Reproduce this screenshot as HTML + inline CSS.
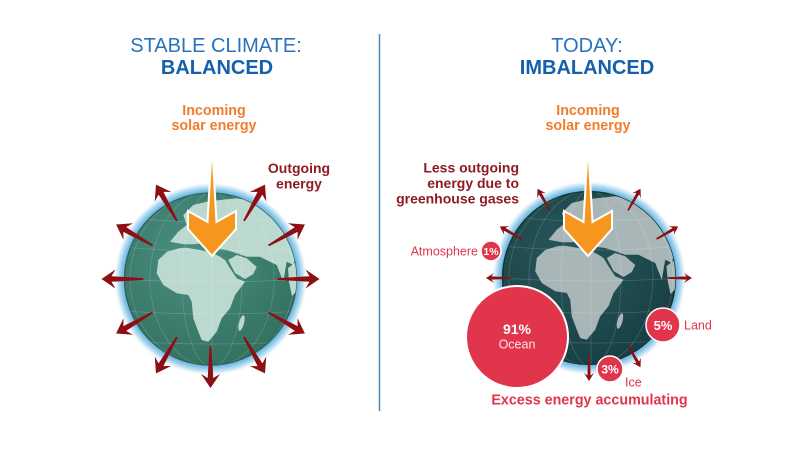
<!DOCTYPE html>
<html><head><meta charset="utf-8"><style>
html,body{margin:0;padding:0;background:#fff;}
svg{display:block;}
text{font-family:"Liberation Sans",Arial,sans-serif;}
</style></head><body>
<svg width="800" height="450" viewBox="0 0 800 450" xmlns="http://www.w3.org/2000/svg">
<defs>
<radialGradient id="glow" cx="0.5" cy="0.5" r="0.5">
<stop offset="0.88" stop-color="#5ea9d8"/>
<stop offset="0.915" stop-color="#86c5e8"/>
<stop offset="0.96" stop-color="#cfe8f6"/>
<stop offset="1" stop-color="#ffffff" stop-opacity="0"/>
</radialGradient>
<radialGradient id="oceanL" cx="0.4" cy="0.35" r="0.7">
<stop offset="0" stop-color="#4a8f81"/>
<stop offset="1" stop-color="#33705f"/>
</radialGradient>
<radialGradient id="oceanR" cx="0.4" cy="0.35" r="0.7">
<stop offset="0" stop-color="#28575b"/>
<stop offset="1" stop-color="#173f43"/>
</radialGradient>
<clipPath id="cL"><circle cx="210.5" cy="279" r="86"/></clipPath>
<clipPath id="cR"><circle cx="589" cy="278" r="86.5"/></clipPath>
<g id="land">
<path d="M180,248 L167,251.7 L158.3,260 L156.7,273.3 L163.3,285 L176.7,293.3 L188.3,295 L191.7,301.7 L193.3,318.3 L198.3,331.7 L201.7,340 L208.3,341.7 L216.7,331.7 L221.7,318.3 L230,308.3 L235,295 L245,281.7 L236.7,278.3 L230,268.3 L225,260 L220,256.7 L213.3,253.3 L200,250 L186.7,247.7 Z"/>
<ellipse cx="241.5" cy="323" rx="2.5" ry="8" transform="rotate(15 241.5 323)"/>
<path d="M228.3,260 L235,273 L245,279 L253.3,274 L256.7,267 L246.7,258.3 L236.7,255 Z"/>
<path d="M170,241.7 L178.3,231.7 L186.7,225 L183.3,215 L193.3,205 L206.7,201.7 L220,200 L236.7,198.3 L260,201.7 L280,208.3 L293.3,221.7 L297,251.7 L293.3,265 L286.7,261.7 L283.3,281.7 L276.7,265 L270,261.7 L260,256.7 L246.7,256.7 L236.7,253.3 L226.7,250 L213.3,248.3 L203.3,243.3 L193.3,244.3 L183.3,244.3 Z"/>
<path d="M288,268 L296,262 L298,290 L292,296 L289,282 Z"/>
</g>
<g id="grid" fill="none" stroke="#ffffff" stroke-opacity="0.17" stroke-width="0.8">
<ellipse cx="0" cy="0" rx="30" ry="88"/>
<ellipse cx="0" cy="0" rx="62" ry="88"/>
<ellipse cx="0" cy="0" rx="82" ry="88"/>
<line x1="0" y1="-90" x2="0" y2="90"/>
<path d="M-90,-62 Q0,-52 90,-62"/>
<path d="M-90,-32 Q0,-24 90,-32"/>
<path d="M-90,0 Q0,6 90,0"/>
<path d="M-90,32 Q0,38 90,32"/>
<path d="M-90,62 Q0,68 90,62"/>
</g>
<path id="bigA" d="M67,-0.9 L99,-2.8 L95,-9.5 L109,0 L95,9.5 L99,2.8 L67,0.9 Z" fill="#8c0f14"/>
<path id="smA" d="M78,-0.8 L97.5,-1.6 L95,-5 L103,0 L95,5 L97.5,1.6 L78,0.8 Z" fill="#8c0f14"/>
<path id="orange" d="M212,143 L216.5,222 L236,211 L236,229 L212,256 L188,229 L188,211 L207.5,222 Z"/>
</defs>

<!-- Divider -->
<line x1="379.5" y1="34" x2="379.5" y2="411" stroke="#4a8bb8" stroke-width="1.5"/>

<!-- Titles -->
<text x="216" y="52" font-size="20" fill="#2a72bd" text-anchor="middle">STABLE CLIMATE:</text>
<text x="217" y="74" font-size="20" font-weight="bold" fill="#1560ae" text-anchor="middle">BALANCED</text>
<text x="587" y="52" font-size="20" fill="#2a72bd" text-anchor="middle">TODAY:</text>
<text x="587" y="74" font-size="20" font-weight="bold" fill="#1560ae" text-anchor="middle">IMBALANCED</text>

<!-- LEFT GLOBE -->
<circle cx="210.5" cy="279" r="97" fill="url(#glow)"/>
<circle cx="210.5" cy="279" r="86" fill="url(#oceanL)" stroke="#2b6459" stroke-width="1.3"/>
<g clip-path="url(#cL)">
<use href="#land" fill="#bcd9cf"/>
<use href="#grid" transform="translate(212,279)"/>
</g>
<g transform="translate(210.5,279)">
<use href="#bigA" transform="rotate(0)"/>
<use href="#bigA" transform="rotate(-30)"/>
<use href="#bigA" transform="rotate(-60)"/>
<use href="#bigA" transform="rotate(-120)"/>
<use href="#bigA" transform="rotate(-150)"/>
<use href="#bigA" transform="rotate(-180)"/>
<use href="#bigA" transform="rotate(-210)"/>
<use href="#bigA" transform="rotate(-240)"/>
<use href="#bigA" transform="rotate(-270)"/>
<use href="#bigA" transform="rotate(-300)"/>
<use href="#bigA" transform="rotate(-330)"/>
</g>
<use href="#orange" fill="#f7961e" stroke="#ffffff" stroke-width="2" stroke-linejoin="miter"/>

<text font-size="14.3" font-weight="bold" fill="#f07d2c" text-anchor="middle"><tspan x="214" y="115">Incoming</tspan><tspan x="214" y="130">solar energy</tspan></text>
<text font-size="14" font-weight="bold" fill="#8e1b22" text-anchor="middle"><tspan x="299" y="173">Outgoing</tspan><tspan x="299" y="188.5">energy</tspan></text>

<!-- RIGHT GLOBE -->
<circle cx="589" cy="278" r="97.5" fill="url(#glow)"/>
<circle cx="589" cy="278" r="86.5" fill="url(#oceanR)" stroke="#10302f" stroke-width="1.3"/>
<g clip-path="url(#cR)">
<g transform="translate(378.5,-2)"><use href="#land" fill="#a9b6b8"/></g>
<use href="#grid" transform="translate(591,278)"/>
</g>
<g transform="translate(589,278)">
<use href="#smA" transform="rotate(0)"/>
<use href="#smA" transform="rotate(-30)"/>
<use href="#smA" transform="rotate(-60)"/>
<use href="#smA" transform="rotate(-120)"/>
<use href="#smA" transform="rotate(-150)"/>
<use href="#smA" transform="rotate(-180)"/>
<use href="#smA" transform="rotate(-270)"/>
<use href="#smA" transform="rotate(-300)"/>
</g>
<use href="#orange" transform="translate(376,0)" fill="#f7961e" stroke="#ffffff" stroke-width="2"/>

<text font-size="14.3" font-weight="bold" fill="#f07d2c" text-anchor="middle"><tspan x="588" y="115">Incoming</tspan><tspan x="588" y="130">solar energy</tspan></text>
<text font-size="14" font-weight="bold" fill="#8e1b22" text-anchor="end"><tspan x="519" y="172.5">Less outgoing</tspan><tspan x="519" y="188">energy due to</tspan><tspan x="519" y="203.5">greenhouse gases</tspan></text>

<!-- Circles -->
<circle cx="517" cy="337" r="51" fill="#e0354b" stroke="#ffffff" stroke-width="2"/>
<text x="517" y="334" font-size="14" font-weight="bold" fill="#ffffff" text-anchor="middle">91%</text>
<text x="517" y="348.5" font-size="12.5" fill="#fde4e8" text-anchor="middle">Ocean</text>

<circle cx="491" cy="251" r="10" fill="#e0354b" stroke="#ffffff" stroke-width="1.5"/>
<text x="491" y="255" font-size="10.5" font-weight="bold" fill="#ffffff" text-anchor="middle">1%</text>
<text x="478" y="255.5" font-size="12.5" fill="#e0354b" text-anchor="end">Atmosphere</text>

<circle cx="663" cy="325" r="17" fill="#e0354b" stroke="#ffffff" stroke-width="1.5"/>
<text x="663" y="330" font-size="13" font-weight="bold" fill="#ffffff" text-anchor="middle">5%</text>
<text x="684" y="329.5" font-size="12.5" fill="#e0354b">Land</text>

<circle cx="610" cy="369" r="13" fill="#e0354b" stroke="#ffffff" stroke-width="1.5"/>
<text x="610" y="373.5" font-size="12" font-weight="bold" fill="#ffffff" text-anchor="middle">3%</text>
<text x="625" y="386.5" font-size="12.5" fill="#e0354b">Ice</text>

<text x="589.5" y="404.5" font-size="14.3" font-weight="bold" fill="#e0354b" text-anchor="middle">Excess energy accumulating</text>
</svg>
</body></html>
